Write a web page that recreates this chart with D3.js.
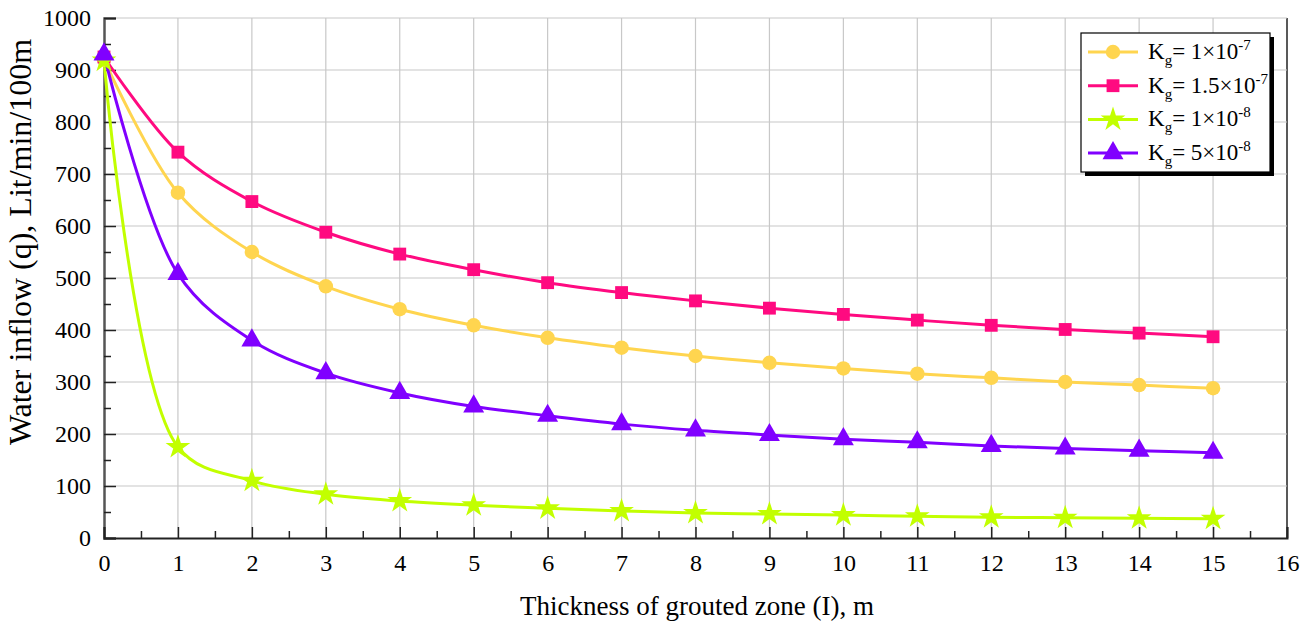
<!DOCTYPE html>
<html lang="en">
<head>
<meta charset="UTF-8">
<title>Water inflow</title>
<script src="https://cdn.jsdelivr.net/npm/d3@7"></script>
<style>
  body { margin: 0; background: #fff; }
  text { font-family: "Liberation Serif", "Times New Roman", serif; fill: #000; }
</style>
</head>
<body>
<script>
// thickness of grouted zone (m)
const thickness = [0, 1, 2, 3, 4, 5, 6, 7, 8, 9, 10, 11, 12, 13, 14, 15];

// water inflow, Lit/min/100m, for each Kg
const kg1e7   = [920, 664, 550, 484, 440, 409, 385, 366, 350, 337, 326, 316, 308, 300, 294, 288];
const kg15e7  = [925, 742, 647, 588, 546, 516, 491, 472, 456, 442, 430, 419, 409, 401, 394, 387];
const kg1e8   = [918, 175, 110, 84, 71, 63, 57, 52, 48, 46, 44, 42, 40, 39, 38, 37];
const kg5e8   = [930, 508, 380, 317, 279, 253, 235, 219, 207, 198, 190, 184, 177, 172, 168, 164];

const seriesNames = [
  { base: "1", exp: "-7" },
  { base: "1.5", exp: "-7" },
  { base: "1", exp: "-8" },
  { base: "5", exp: "-8" }
];
const seriesColors = ["#ffd54f", "#ff0a80", "#c2ff00", "#8000ff"];
const seriesSymbols = [d3.symbolCircle, d3.symbolSquare, d3.symbolStar, d3.symbolTriangle];
const seriesData = [kg1e7, kg15e7, kg1e8, kg5e8];

const xTicks = d3.range(0, 17, 1);
const yTicks = d3.range(0, 1001, 100);

var w = 1310, h = 625;
var mLeft = 104, mRight = 1287, mTop = 18, mBottom = 538;

var svg = d3.select("body").append("svg")
    .attr("width", w)
    .attr("height", h);

var xScale = d3.scaleLinear().domain([0, 16]).range([mLeft, mRight]);
var yScale = d3.scaleLinear().domain([0, 1000]).range([mBottom, mTop]);

// grid
svg.append("g").selectAll("line")
    .data(xTicks.slice(1))
    .enter().append("line")
    .attr("x1", d => xScale(d)).attr("x2", d => xScale(d))
    .attr("y1", mTop).attr("y2", mBottom)
    .attr("stroke", d => d === 16 ? "#222" : "#c8c8c8")
    .attr("stroke-width", d => d === 16 ? 1.5 : 1.2);

svg.append("g").selectAll("line")
    .data(yTicks.slice(1))
    .enter().append("line")
    .attr("x1", mLeft).attr("x2", mRight)
    .attr("y1", d => yScale(d)).attr("y2", d => yScale(d))
    .attr("stroke", "#c8c8c8")
    .attr("stroke-width", 1.2);

// axes with inward ticks
var yAxis = d3.axisLeft(yScale).tickValues(yTicks).tickSize(-12).tickPadding(16).tickFormat(d3.format("d"));
var gy = svg.append("g").attr("transform", "translate(" + mLeft + ",0)").call(yAxis)
    .attr("font-family", "Liberation Serif");
gy.select(".domain").attr("stroke", "#555").attr("stroke-width", 2.5);
gy.selectAll(".tick line").attr("stroke", "#222").attr("stroke-width", 1.5);
gy.selectAll(".tick text").attr("font-size", "24px").attr("x", -13);

var yMinor = d3.axisLeft(yScale).tickValues(d3.range(50, 1000, 100)).tickSize(-7).tickFormat("");
var gym = svg.append("g").attr("transform", "translate(" + mLeft + ",0)").call(yMinor);
gym.select(".domain").remove();
gym.selectAll(".tick line").attr("stroke", "#222").attr("stroke-width", 1.5);

var xAxis = d3.axisBottom(xScale).tickValues(xTicks).tickSize(-11).tickPadding(13);
var gx = svg.append("g").attr("transform", "translate(0," + mBottom + ")").call(xAxis)
    .attr("font-family", "Liberation Serif");
gx.select(".domain").attr("stroke", "#222").attr("stroke-width", 2);
gx.selectAll(".tick line").attr("stroke", "#222").attr("stroke-width", 1.5);
gx.selectAll(".tick text").attr("font-size", "24px").attr("dy", "0.85em");

var xMinor = d3.axisBottom(xScale).tickValues(d3.range(0.5, 16, 1)).tickSize(-7).tickFormat("");
var gxm = svg.append("g").attr("transform", "translate(0," + mBottom + ")").call(xMinor);
gxm.select(".domain").remove();
gxm.selectAll(".tick line").attr("stroke", "#222").attr("stroke-width", 1.5);

// lines
var line = d3.line()
    .x((d, i) => xScale(thickness[i]))
    .y(d => yScale(d))
    .curve(d3.curveCatmullRom.alpha(0.5));

var markerSize = [165, 165, 190, 190];

seriesData.forEach(function (vals, s) {
    svg.append("path")
        .datum(vals)
        .attr("d", line)
        .attr("fill", "none")
        .attr("stroke", seriesColors[s])
        .attr("stroke-width", 3);
});

seriesData.forEach(function (vals, s) {
    svg.append("g").selectAll("path")
        .data(vals)
        .enter().append("path")
        .attr("transform", (d, i) => "translate(" + xScale(thickness[i]) + "," + yScale(d) + ")")
        .attr("d", d3.symbol().type(seriesSymbols[s]).size(markerSize[s]))
        .attr("fill", seriesColors[s]);
});

// axis titles
svg.append("text")
    .attr("x", 697)
    .attr("y", 615)
    .attr("text-anchor", "middle")
    .attr("font-size", "27px")
    .text("Thickness of grouted zone (I), m");

svg.append("text")
    .attr("transform", "translate(31,242) rotate(-90)")
    .attr("text-anchor", "middle")
    .attr("font-size", "32px")
    .text("Water inflow (q), Lit/min/100m");

// legend
var lx = 1081, ly = 33, lw = 189, lh = 139;
svg.append("rect").attr("x", lx + 4).attr("y", ly + 4).attr("width", lw).attr("height", lh).attr("fill", "#000");
svg.append("rect").attr("x", lx).attr("y", ly).attr("width", lw).attr("height", lh)
    .attr("fill", "#fff").attr("stroke", "#000").attr("stroke-width", 1.2);

seriesNames.forEach(function (n, s) {
    var yy = ly + 19 + s * 33.7;
    svg.append("line").attr("x1", lx + 7).attr("x2", lx + 57).attr("y1", yy).attr("y2", yy)
        .attr("stroke", seriesColors[s]).attr("stroke-width", 3);
    svg.append("path")
        .attr("transform", "translate(" + (lx + 32) + "," + yy + ")")
        .attr("d", d3.symbol().type(seriesSymbols[s]).size(markerSize[s]))
        .attr("fill", seriesColors[s]);
    var t = svg.append("text").attr("x", lx + 67).attr("y", yy + 7).attr("font-size", "23px");
    t.append("tspan").text("K");
    t.append("tspan").attr("font-size", "15px").attr("dy", 6).text("g");
    t.append("tspan").attr("dy", -6).text("= " + n.base + "\u00d710");
    t.append("tspan").attr("font-size", "15px").attr("dy", -9).text(n.exp);
});
</script>
</body>
</html>
